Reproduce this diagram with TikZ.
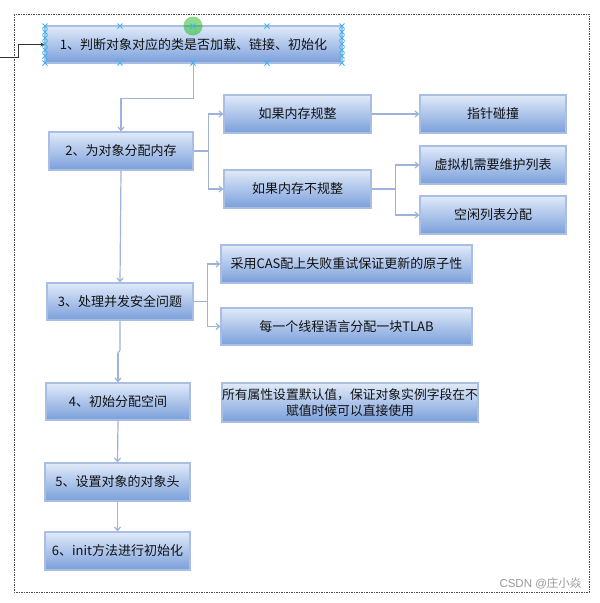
\documentclass[tikz,border=0pt]{standalone}
\usepackage{fontspec}
\setmainfont{Liberation Sans}
\newfontfamily\cjk{Noto Sans CJK SC}
\usetikzlibrary{arrows.meta}
\definecolor{boxtop}{HTML}{E0EAF9}
\definecolor{boxbot}{HTML}{7A9FDB}
\definecolor{boxline}{HTML}{A9BEE2}
\definecolor{connc}{HTML}{9DB3D9}
\definecolor{txt}{HTML}{111111}
\definecolor{handle}{HTML}{3DB4F0}
\tikzset{
  box/.style={draw=boxline, line width=1.2pt, top color=boxtop, bottom color=boxbot,
    inner sep=0pt, align=center, text=txt,
    font=\cjk\fontsize{13}{16}\selectfont},
  conn/.style={draw=connc, line width=1.2pt, -{Straight Barb[length=3.5pt,width=6pt]}},
  plain/.style={draw=connc, line width=1.2pt},
  hcross/.style={draw=handle, line width=0.8pt},
}
\newcommand{\hx}[2]{\draw[hcross] (#1-2.5,#2-2.5) -- (#1+2.5,#2+2.5) (#1-2.5,#2+2.5) -- (#1+2.5,#2-2.5);}
\begin{document}
\begin{tikzpicture}[x=1pt,y=-1pt]
\useasboundingbox (0,0) rectangle (600,603);
\fill[white] (0,0) rectangle (600,603);
% dashed frame
\draw[black!70, line width=0.8pt, dash pattern=on 1.5pt off 1pt] (14,14) rectangle (589,592);

% boxes
\node[box, minimum width=297pt, minimum height=37pt] (b1) at (193.5,44.5) {1、判断对象对应的类是否加载、链接、初始化};
\node[box, minimum width=144pt, minimum height=38pt] (b2) at (121,151) {2、为对象分配内存};
\node[box, minimum width=147pt, minimum height=38pt] (r1) at (297.5,114) {如果内存规整};
\node[box, minimum width=147pt, minimum height=38pt] (r2) at (297.5,189) {如果内存不规整};
\node[box, minimum width=146pt, minimum height=38pt] (p1) at (493,114) {指针碰撞};
\node[box, minimum width=146pt, minimum height=38pt] (p2) at (493,165) {虚拟机需要维护列表};
\node[box, minimum width=146pt, minimum height=38pt] (p3) at (493,215) {空闲列表分配};
\node[box, minimum width=146pt, minimum height=37pt] (b3) at (120,301.5) {3、处理并发安全问题};
\node[box, minimum width=251pt, minimum height=38pt] (c1) at (346.5,264) {采用CAS配上失败重试保证更新的原子性};
\node[box, minimum width=251pt, minimum height=37pt] (c2) at (346.5,326.5) {每一个线程语言分配一块TLAB};
\node[box, minimum width=144pt, minimum height=37pt] (b4) at (118,401.5) {4、初始分配空间};
\node[box, minimum width=254pt, minimum height=39pt, font=\cjk\fontsize{12.8}{15.5}\selectfont] (d1) at (350,402.5) {所有属性设置默认值，保证对象实例字段在不\\赋值时候可以直接使用};
\node[box, minimum width=145pt, minimum height=38pt] (b5) at (117.5,482) {5、设置对象的对象头};
\node[box, minimum width=145pt, minimum height=38pt] (b6) at (117.5,551) {6、init方法进行初始化};

% incoming arrow
\coordinate (inA) at (0,57);
\draw[black!80, line width=0.9pt, -{Stealth[length=4pt,width=4pt]}] (inA) -- (18,57) |- (b1.west);

% connectors
\draw[conn] (b1.south) -- ++(0,35) -| (b2.north);
\draw[conn] (b2.east) -- ++(15,0) |- (r1.west);
\draw[conn] (b2.east) -- ++(15,0) |- (r2.west);
\draw[conn] (r1.east) -- (p1.west);
\draw[conn] (r2.east) -- ++(24,0) |- (p2.west);
\draw[conn] (r2.east) -- ++(24,0) |- (p3.west);
\draw[conn] (b2.south) -- (b3.north);
\draw[conn] (b3.east) -- ++(14,0) |- (c1.west);
\draw[conn] (b3.east) -- ++(14,0) |- (c2.west);
\coordinate (j1) at (120,350);
\coordinate (j2) at (118,353);
\draw[plain] (b3.south) -- (j1) -- (j2);
\draw[conn] (j2) -- (b4.north);
\draw[conn] (b4.south) -- (b5.north);
\draw[conn] (b5.south) -- (b6.north);

% selection handles
\foreach \x in {45,120,267,342} {\hx{\x}{26}\hx{\x}{63}}
\hx{193}{63}
\foreach \y in {32,38,44,50,56} {\hx{45}{\y}\hx{342}{\y}}
\fill[green!70!black, opacity=0.45] (193,26) circle (9.5);
\hx{193}{26}

% watermark
\node[anchor=east, text=black!40, font=\fontsize{11.5}{13}\selectfont] (wm) at (585,583) {CSDN @{\cjk 庄小焱}};
\end{tikzpicture}
\end{document}
